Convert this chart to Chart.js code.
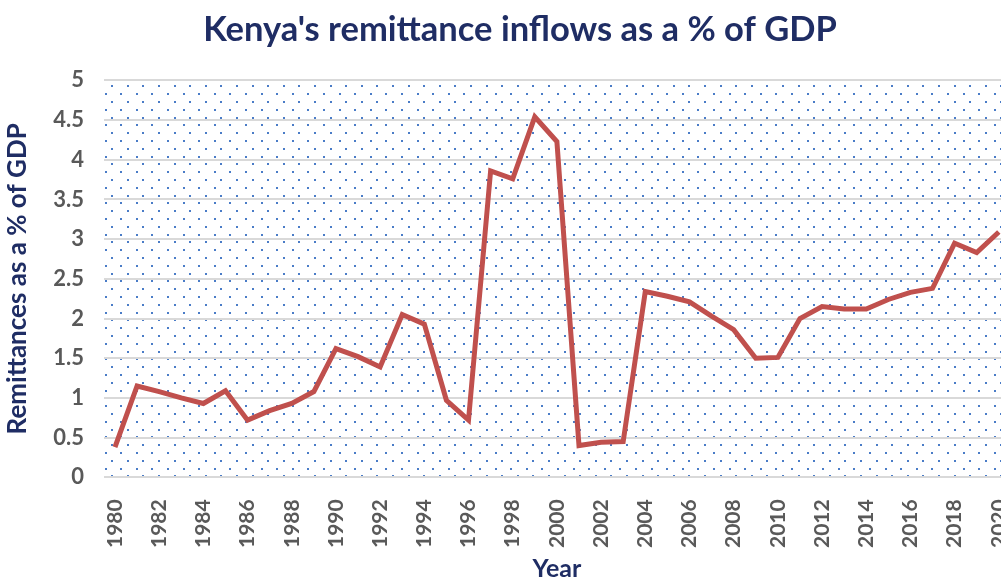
<!DOCTYPE html>
<html>
<head>
<meta charset="utf-8">
<script src="https://cdn.jsdelivr.net/npm/chart.js@4"></script>
<style>
  html, body { margin: 0; padding: 0; background: #fff; overflow: hidden; width: 1001px; height: 581px; }
  #wrap { width: 1001px; height: 581px; overflow: hidden; }
</style>
</head>
<body>
<div id="wrap"><canvas id="remitChart" width="1038" height="581"></canvas></div>
<script>
// Data
const years = [];
for (let y = 1980; y <= 2020; y++) years.push(String(y));

const remittancePct = [
  0.38, 1.15, 1.08, 1.00, 0.93, 1.09, 0.72, 0.84, 0.93, 1.08,
  1.62, 1.52, 1.39, 2.05, 1.93, 0.97, 0.72, 3.86, 3.76, 4.54,
  4.23, 0.40, 0.44, 0.45, 2.34, 2.28, 2.21, 2.03, 1.86, 1.50,
  1.51, 2.00, 2.15, 2.12, 2.12, 2.24, 2.33, 2.38, 2.95, 2.83,
  3.09
];

const navy = "#1f2d64";
const tickGray = "#595959";

// Dotted fill behind the plot area
const dotBackground = {
  id: "dotBackground",
  beforeDraw(chart) {
    const { ctx, chartArea } = chart;
    const step = 15.6;
    ctx.save();
    ctx.fillStyle = "#4a7cc7";
    let row = 0;
    for (let y = chartArea.top + 6; y < chartArea.bottom; y += step / 2) {
      const shift = row % 2 === 0 ? 8.3 : 1.7;
      for (let x = chartArea.left + shift; x < chartArea.right; x += step) {
        ctx.fillRect(Math.round(x) - 1, Math.round(y) - 1, 2, 2);
      }
      row++;
    }
    ctx.restore();
  }
};

const ctx = document.getElementById("remitChart").getContext("2d");
new Chart(ctx, {
  type: "line",
  data: {
    labels: years,
    datasets: [{
      label: "Remittances as a % of GDP",
      data: remittancePct,
      borderColor: "#c0504d",
      borderWidth: 5,
      pointRadius: 0,
      tension: 0,
      borderJoinStyle: "miter",
      fill: false
    }]
  },
  options: {
    responsive: false,
    animation: false,
    layout: { padding: { left: 2, top: 2, right: 0, bottom: 0 } },
    plugins: {
      legend: { display: false },
      tooltip: { enabled: false },
      title: {
        display: true,
        text: "Kenya's remittance inflows as a % of GDP",
        color: navy,
        font: { family: "Lato", size: 34.5, weight: "bold" },
        padding: { top: 7, bottom: 30 }
      }
    },
    scales: {
      x: {
        offset: true,
        grid: { display: false },
        border: { display: false },
        ticks: {
          autoSkip: false,
          minRotation: 90,
          maxRotation: 90,
          color: tickGray,
          font: { family: "Lato", size: 21, weight: "bold" },
          padding: 14,
          callback: function (value, index) {
            return index % 2 === 0 ? this.getLabelForValue(value) : "";
          }
        },
        title: {
          display: true,
          text: "Year",
          color: navy,
          font: { family: "Lato", size: 25, weight: "bold", lineHeight: 1 },
          padding: { top: -6, bottom: 0 }
        }
      },
      y: {
        min: 0,
        max: 5,
        grid: { color: "#d9d9d9", lineWidth: 2, drawTicks: false },
        border: { display: false },
        ticks: {
          stepSize: 0.5,
          color: tickGray,
          font: { family: "Lato", size: 22, weight: "bold" },
          padding: 20,
          callback: (v) => String(v)
        },
        title: {
          display: true,
          text: "Remittances as a % of GDP",
          color: navy,
          font: { family: "Lato", size: 26, weight: "bold" },
          padding: { top: 0, bottom: 0 }
        }
      }
    }
  },
  plugins: [dotBackground]
});
</script>
</body>
</html>
